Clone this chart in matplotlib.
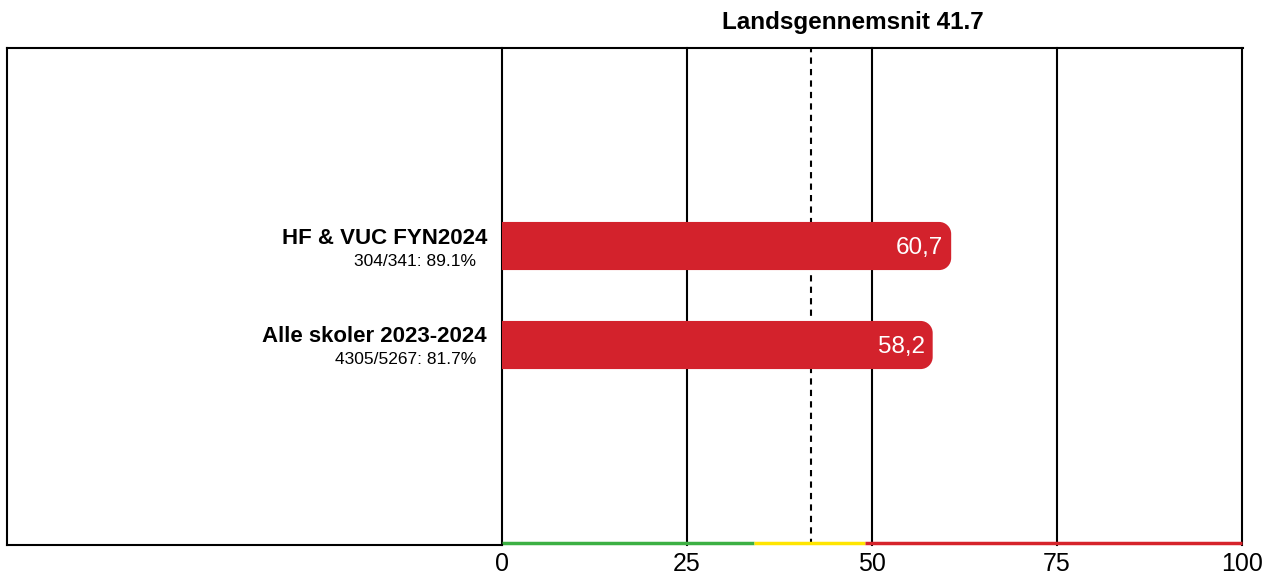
import matplotlib
matplotlib.use("Agg")
import matplotlib.pyplot as plt
from matplotlib.path import Path
from matplotlib.patches import PathPatch
from matplotlib.lines import Line2D

plt.rcParams['font.family'] = ['Liberation Sans', 'DejaVu Sans']

# data
labels = ['HF & VUC FYN2024', 'Alle skoler 2023-2024']
sublabels = ['304/341: 89.1%', '4305/5267: 81.7%']
values = [60.7, 58.2]
value_text = ['60,7', '58,2']
landsgennemsnit = 41.7
xticks = [0, 25, 50, 75, 100]
bands = [(0, 34, '#3cb043'), (34, 49, '#ffe500'), (49, 100, '#d6232b')]

W, H = 1264, 576
fig = plt.figure(figsize=(W / 100, H / 100), dpi=100)
ax_l, ax_r, ax_t, ax_b = 502, 1242, 48, 545
ax = fig.add_axes([ax_l / W, 1 - ax_b / H, (ax_r - ax_l) / W, (ax_b - ax_t) / H])

ax.set_xlim(0, 100)
ax.set_ylim(-2.02, 3.0)
for s in ax.spines.values():
    s.set_visible(False)
ax.set_yticks([])
ax.set_xticks(xticks)
ax.tick_params(axis='x', length=0, labelsize=18, pad=5)

# gridlines
for x in xticks:
    ax.axvline(x, color='black', lw=1.5, zorder=1, clip_on=False)
ax.axvline(landsgennemsnit, color='black', lw=1.5, ls=(0, (3, 2.5)), zorder=1)

# bars with rounded right end
px_x = (ax_r - ax_l) / 100.0
px_y = (ax_b - ax_t) / 5.02
rx = 12 / px_x
ry = 12 / px_y
hh = 0.243
k = 0.5523
ypos = [1, 0]
for y, v in zip(ypos, values):
    y0, y1 = y - hh, y + hh
    verts = [(0, y0), (v - rx, y0),
             (v - rx + k * rx, y0), (v, y0 + ry - k * ry), (v, y0 + ry),
             (v, y1 - ry),
             (v, y1 - ry + k * ry), (v - rx + k * rx, y1), (v - rx, y1),
             (0, y1), (0, y0)]
    codes = [Path.MOVETO, Path.LINETO,
             Path.CURVE4, Path.CURVE4, Path.CURVE4,
             Path.LINETO,
             Path.CURVE4, Path.CURVE4, Path.CURVE4,
             Path.LINETO, Path.CLOSEPOLY]
    ax.add_patch(PathPatch(Path(verts, codes), facecolor='#d3222c', edgecolor='none', zorder=3))

for y, v, t in zip(ypos, values, value_text):
    ax.text(v - 1.1, y - 0.02, t, color='white', fontsize=17.5, ha='right', va='center', zorder=4)

# category labels
for y, lab, sub in zip(ypos, labels, sublabels):
    fig.text(487 / W, 1 - (y and 238 or 337) / H, lab, fontsize=16, fontweight='bold',
             ha='right', va='center')
    fig.text(476 / W, 1 - (y and 261 or 360) / H, sub, fontsize=12.5, ha='right', va='center')

# colour band on the x axis
for a, b, c in bands:
    ax.plot([a, b], [-2.0, -2.0], color=c, lw=2.5, solid_capstyle='butt', clip_on=False, zorder=2)

# outer frame
fig.add_artist(Line2D([7 / W, 7 / W], [1 - 545 / H, 1 - 48 / H], color='black', lw=1.5))
fig.add_artist(Line2D([7 / W, 1243 / W], [1 - 48 / H, 1 - 48 / H], color='black', lw=1.5))
fig.add_artist(Line2D([7 / W, 502 / W], [1 - 545 / H, 1 - 545 / H], color='black', lw=1.5))

fig.text(853 / W, 1 - 22 / H, 'Landsgennemsnit ' + str(landsgennemsnit), fontsize=17.5,
         fontweight='bold', ha='center', va='center')

fig.savefig('out.png', dpi=100)
